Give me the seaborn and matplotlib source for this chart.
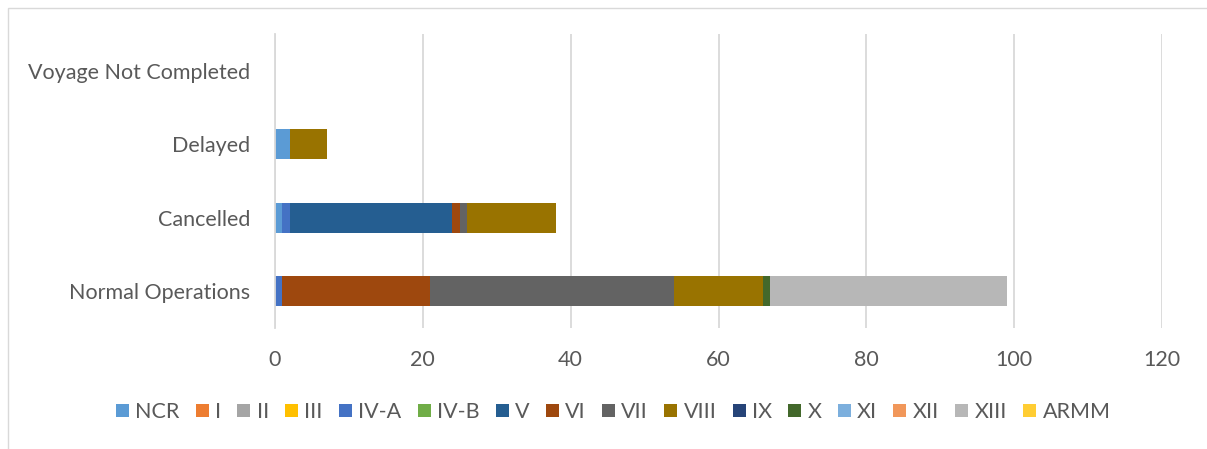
import matplotlib.pyplot as plt
import seaborn as sns
import pandas as pd
import numpy as np
from matplotlib.patches import Rectangle

statuses = ['Normal Operations', 'Cancelled', 'Delayed', 'Voyage Not Completed']
regions = ['NCR', 'I', 'II', 'III', 'IV-A', 'IV-B', 'V', 'VI', 'VII', 'VIII',
           'IX', 'X', 'XI', 'XII', 'XIII', 'ARMM']
colors = ['#5B9BD5', '#ED7D31', '#A5A5A5', '#FFC000', '#4472C4', '#70AD47',
          '#255E91', '#9E480E', '#636363', '#997300', '#264478', '#43682B',
          '#7CAFDD', '#F1975A', '#B7B7B7', '#FFCD33']

# counts per region for each status (order as in statuses)
ncr   = [0, 1, 2, 0]
r1    = [0, 0, 0, 0]
r2    = [0, 0, 0, 0]
r3    = [0, 0, 0, 0]
r4a   = [1, 1, 0, 0]
r4b   = [0, 0, 0, 0]
r5    = [0, 22, 0, 0]
r6    = [20, 1, 0, 0]
r7    = [33, 1, 0, 0]
r8    = [12, 12, 5, 0]
r9    = [0, 0, 0, 0]
r10   = [1, 0, 0, 0]
r11   = [0, 0, 0, 0]
r12   = [0, 0, 0, 0]
r13   = [32, 0, 0, 0]
armm  = [0, 0, 0, 0]

df = pd.DataFrame(
    [ncr, r1, r2, r3, r4a, r4b, r5, r6, r7, r8, r9, r10, r11, r12, r13, armm],
    index=regions, columns=statuses).T

sns.set_theme(style='white')
plt.rcParams['font.family'] = ['Lato', 'DejaVu Sans']
text_color = '#595959'
fs = 15.5

fig = plt.figure(figsize=(12.07, 4.49), dpi=100)
ax = fig.add_axes([275 / 1207, 1 - 328 / 449, (1162 - 275) / 1207, (328 - 34) / 449])

y = np.arange(len(statuses))
left = np.zeros(len(statuses))
for reg, col in zip(regions, colors):
    vals = df[reg].values
    ax.barh(y, vals, left=left, height=0.41, color=col, label=reg, linewidth=0)
    left += vals

ax.set_xlim(0, 120)
ax.set_ylim(-0.5, len(statuses) - 0.5)
ax.set_xticks(range(0, 121, 20))
ax.set_yticks(y)
ax.set_yticklabels(statuses)
ax.tick_params(axis='both', length=0, labelsize=fs, colors=text_color)
ax.tick_params(axis='x', pad=16)
ax.tick_params(axis='y', pad=18)
ax.xaxis.grid(True, color='#D9D9D9', linewidth=1.3)
ax.set_axisbelow(True)
for s in ax.spines.values():
    s.set_visible(False)
ax.spines['left'].set_visible(True)
ax.spines['left'].set_color('#D9D9D9')
ax.spines['left'].set_linewidth(1.3)

leg = fig.legend(loc='center', bbox_to_anchor=(0.508, 1 - 412 / 449), ncol=16,
                 frameon=False, fontsize=fs, handlelength=0.6, handleheight=0.6,
                 handletextpad=0.3, columnspacing=0.75)
for t in leg.get_texts():
    t.set_color(text_color)

fig.patches.append(Rectangle((8 / 1207, -0.1), 1.2, 1 - 8 / 449 + 0.1,
                             transform=fig.transFigure, fill=False,
                             edgecolor='#D9D9D9', linewidth=1))

fig.savefig('out.png', dpi=100)
